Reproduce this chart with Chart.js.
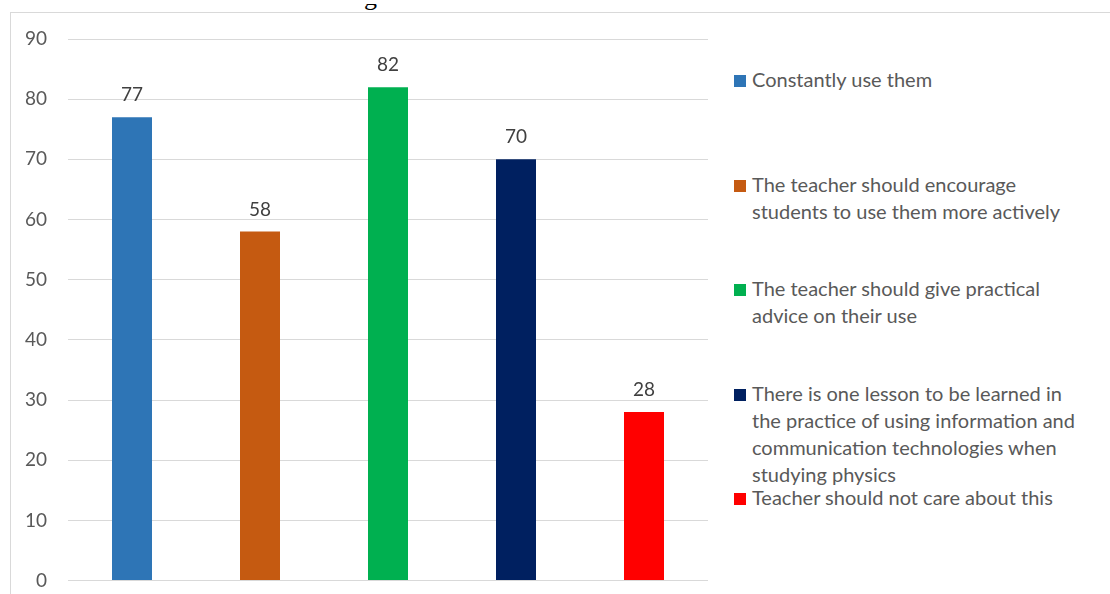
<!DOCTYPE html>
<html>
<head>
<meta charset="utf-8">
<script src="https://cdn.jsdelivr.net/npm/chart.js@4"></script>
<style>
  html, body { margin: 0; padding: 0; background: #fff; }
  body { width: 1110px; height: 594px; overflow: hidden; position: relative; font-family: Lato, sans-serif; }
  #frame { position: absolute; left: 10px; top: 12px; right: 0; bottom: 0; border-top: 1px solid #d9d9d9; border-left: 1px solid #d9d9d9; }
  /* only the tail of the cropped title shows above the frame */
  #titleclip { position: absolute; left: 358px; top: 4px; width: 30px; height: 8px; overflow: hidden; }
  #title { position: absolute; left: 6px; top: -20.5px; font: 26px/26px 'Liberation Serif', serif; color: #000; }
  #chart { position: absolute; left: 0; top: 0; }
  #legend { position: absolute; left: 734px; top: 66px; margin: 0; padding: 0; list-style: none; color: #595959; font-size: 20px; line-height: 27px; }
  #legend li { position: relative; padding-left: 18px; height: 104.5px; white-space: nowrap; }
  #legend .box { position: absolute; left: 0; top: 9px; width: 12px; height: 12px; }
</style>
</head>
<body>
<div id="titleclip"><div id="title">g</div></div>
<div id="frame"></div>
<!-- canvas runs a bit past the bottom edge so the plot floor lands at y=580 -->
<canvas id="chart" width="720" height="613"></canvas>
<ul id="legend"></ul>
<script>
// data
const categories = [
  'Constantly use them',
  'The teacher should encourage students to use them more actively',
  'The teacher should give practical advice on their use',
  'There is one lesson to be learned in the practice of using information and communication technologies when studying physics',
  'Teacher should not care about this'
]
// legend text, wrapped the way the picture wraps it
const legendLines = [
  ['Constantly use them'],
  ['The teacher should encourage', 'students to use them more actively'],
  ['The teacher should give practical', 'advice on their use'],
  ['There is one lesson to be learned in', 'the practice of using information and', 'communication technologies when', 'studying physics'],
  ['Teacher should not care about this']
]
const values = [77, 58, 82, 70, 28]
const barColors = ['#2e75b6', '#c55a11', '#00b050', '#002060', '#ff0000']
const yMin = 0, yMax = 90, yStep = 10

// value labels above the bars
const barLabels = {
  id: 'barLabels',
  afterDatasetsDraw(chart) {
    const ctx = chart.ctx
    const meta = chart.getDatasetMeta(0)
    ctx.save()
    ctx.font = '19px Lato'
    ctx.fillStyle = '#404040'
    ctx.textAlign = 'center'
    ctx.textBaseline = 'alphabetic'
    meta.data.forEach((bar, i) => {
      ctx.fillText(String(chart.data.datasets[0].data[i]), bar.x, bar.y - 16)
    })
    ctx.restore()
  }
}

new Chart(document.getElementById('chart'), {
  type: 'bar',
  data: {
    labels: categories,
    datasets: [{
      data: values,
      backgroundColor: barColors,
      borderWidth: 0,
      categoryPercentage: 1,
      barPercentage: 0.3125
    }]
  },
  options: {
    responsive: false,
    animation: false,
    layout: { padding: { left: 10, right: 12, top: 39, bottom: 0 } },
    plugins: {
      legend: { display: false },
      tooltip: { enabled: false },
      title: { display: false }
    },
    scales: {
      x: { display: false },
      y: {
        min: yMin,
        max: yMax,
        afterFit(scale) { scale.width = 58 },
        border: { display: false },
        grid: { color: '#d9d9d9', lineWidth: 1, drawTicks: false },
        ticks: {
          stepSize: yStep,
          padding: 21,
          color: '#595959',
          font: { family: 'Lato', size: 19 }
        }
      }
    }
  },
  plugins: [barLabels]
})

// legend built from the same arrays
const ul = document.getElementById('legend')
legendLines.forEach((lines, i) => {
  const li = document.createElement('li')
  const box = document.createElement('span')
  box.className = 'box'
  box.style.background = barColors[i]
  li.appendChild(box)
  lines.forEach((t, j) => {
    if (j) li.appendChild(document.createElement('br'))
    li.appendChild(document.createTextNode(t))
  })
  ul.appendChild(li)
})
</script>
</body>
</html>
